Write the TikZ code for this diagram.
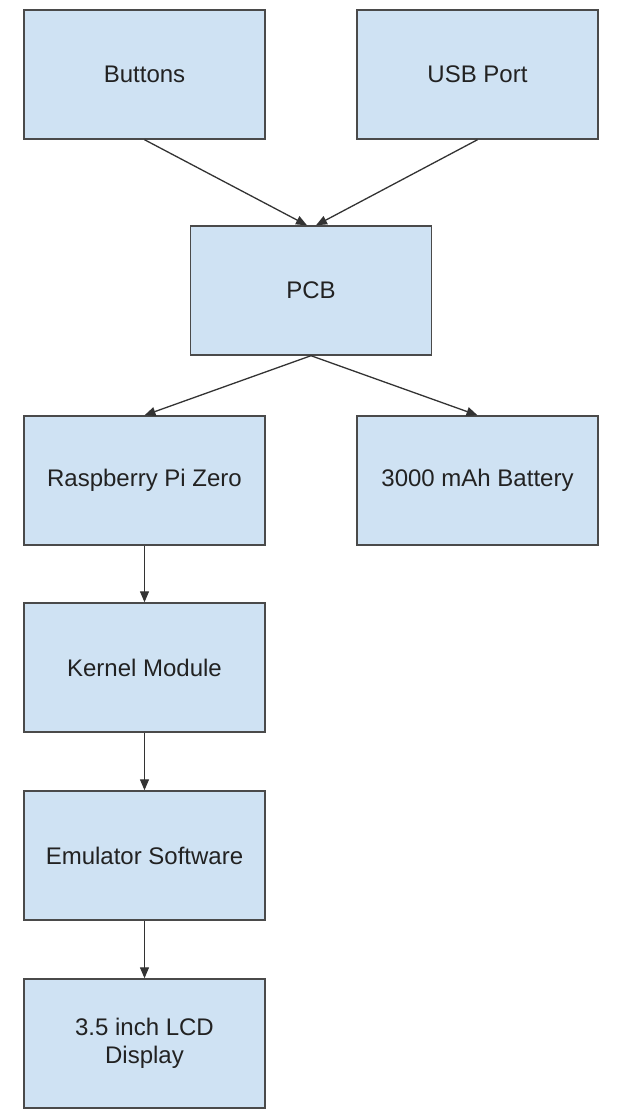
\documentclass[tikz,border=0pt]{standalone}
\usepackage{fontspec}
\setmainfont{Liberation Sans}
\usetikzlibrary{arrows.meta}
\definecolor{boxfill}{HTML}{CFE2F3}
\definecolor{boxline}{HTML}{4A4A4A}
\definecolor{txt}{HTML}{222222}
\definecolor{arr}{HTML}{333333}
\tikzset{
  blk/.style={draw=boxline, fill=boxfill, line width=1.4pt, rectangle,
    minimum width=241pt, minimum height=129pt, inner sep=0pt, align=center,
    text=txt, font=\fontsize{24}{28}\selectfont},
  conn/.style={draw=arr, line width=1.3pt, -{Triangle[length=11pt,width=9pt]}}
}
\begin{document}
\begin{tikzpicture}[x=1pt,y=-1pt]
\useasboundingbox (0,0) rectangle (616,1111);
\node[blk] (buttons) at (144.5,74.5) {Buttons};
\node[blk] (usb) at (477.5,74.5) {USB Port};
\node[blk] (pcb) at (311,290.5) {PCB};
\node[blk] (rpi) at (144.5,480.5) {Raspberry Pi Zero};
\node[blk] (bat) at (477.5,480.5) {3000 mAh Battery};
\node[blk] (kernel) at (144.5,667.5) {Kernel Module};
\node[blk] (emu) at (144.5,855.5) {Emulator Software};
\node[blk] (lcd) at (144.5,1043.5) {3.5 inch LCD\\Display};
\draw[conn] (buttons.south) -- ([xshift=-4pt]pcb.north);
\draw[conn] (usb.south) -- ([xshift=5pt]pcb.north);
\draw[conn] (pcb.south) -- (rpi.north);
\draw[conn] (pcb.south) -- (bat.north);
\draw[conn] (rpi.south) -- (kernel.north);
\draw[conn] (kernel.south) -- (emu.north);
\draw[conn] (emu.south) -- (lcd.north);
\end{tikzpicture}
\end{document}
